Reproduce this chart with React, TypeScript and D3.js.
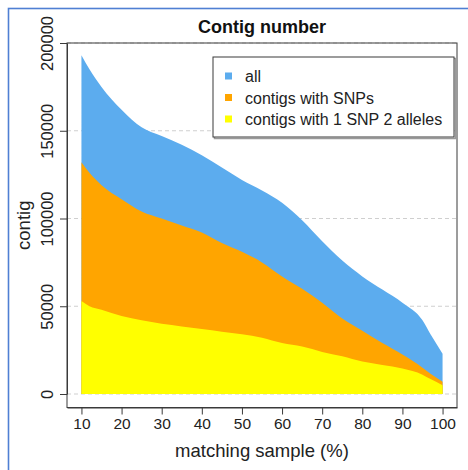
import { useEffect, useRef } from 'react';
import * as d3 from 'd3';

// matching sample (%)
const pct = [10, 12, 15, 20, 25, 30, 35, 40, 45, 50, 55, 60, 65, 70, 75, 80, 85, 90, 95, 97, 100];
// number of contigs per series
const allContigs = [193000, 185000, 175000, 162000, 152000, 147000, 142000, 136000, 129000, 122000, 116000, 109000, 99000, 87000, 76000, 67000, 59500, 52000, 42000, 34000, 23000];
const snpContigs = [132000, 126000, 119000, 111000, 104000, 100000, 96000, 92000, 86000, 81000, 75000, 67000, 60000, 52000, 43000, 36000, 29000, 22500, 15000, 11500, 7000];
const oneSnpContigs = [53000, 50000, 48000, 44500, 42000, 40000, 38500, 37000, 35500, 34000, 32000, 29000, 27000, 24000, 21500, 18500, 16500, 14500, 11000, 8500, 5000];

const xTicks = [10, 20, 30, 40, 50, 60, 70, 80, 90, 100];
const yTicks = [0, 50000, 100000, 150000, 200000];

const seriesNames = ['all', 'contigs with SNPs', 'contigs with 1 SNP 2 alleles'];
const seriesColors = ['#5cacee', '#ffa500', '#ffff00'];

const FONT = '"Liberation Sans", Arial, Helvetica, sans-serif';

export default function App() {
  const ref = useRef<SVGSVGElement>(null);

  useEffect(() => {
    const svg = d3.select(ref.current);
    svg.selectAll('*').remove();

    const box = { left: 67, right: 457, top: 43, bottom: 407.5 };

    const x = d3.scaleLinear().domain([6.4, 103.6]).range([box.left, box.right]);
    const y = d3.scaleLinear().domain([0, 200000]).range([394, 43]);

    // outer blue frame
    svg
      .append('rect')
      .attr('x', 8.5)
      .attr('y', 8.5)
      .attr('width', 480)
      .attr('height', 480)
      .attr('fill', 'none')
      .attr('stroke', '#4f7fd3')
      .attr('stroke-width', 1.6);

    // dashed grid
    svg
      .append('g')
      .selectAll('line')
      .data(yTicks)
      .join('line')
      .attr('x1', box.left)
      .attr('x2', box.right)
      .attr('y1', (d) => y(d))
      .attr('y2', (d) => y(d))
      .attr('stroke', '#cfcfcf')
      .attr('stroke-dasharray', '4,3');

    const series = [allContigs, snpContigs, oneSnpContigs];
    const area = d3
      .area<number>()
      .x((_, i) => x(pct[i]))
      .y0(y(0))
      .y1((d) => y(d))
      .curve(d3.curveMonotoneX);

    svg
      .append('g')
      .selectAll('path')
      .data(series)
      .join('path')
      .attr('d', (d) => area(d))
      .attr('fill', (_, i) => seriesColors[i]);

    // plot box
    svg
      .append('rect')
      .attr('x', box.left)
      .attr('y', box.top)
      .attr('width', box.right - box.left)
      .attr('height', box.bottom - box.top)
      .attr('fill', 'none')
      .attr('stroke', '#3a3a3a');

    // X axis
    const xAxis = svg
      .append('g')
      .attr('transform', `translate(0,${box.bottom})`)
      .call(d3.axisBottom(x).tickValues(xTicks).tickSize(7).tickPadding(3).tickSizeOuter(0));
    xAxis.select('.domain').attr('stroke', '#3a3a3a');
    xAxis.selectAll('.tick line').attr('stroke', '#3a3a3a');
    xAxis
      .selectAll('.tick text')
      .attr('fill', '#222')
      .style('font-family', FONT)
      .style('font-size', '15.5px');

    // Y axis
    const yAxis = svg
      .append('g')
      .attr('transform', `translate(${box.left},0)`)
      .call(d3.axisLeft(y).tickValues(yTicks).tickSize(7).tickSizeOuter(0).tickFormat(d3.format('d')));
    yAxis.select('.domain').attr('stroke', '#3a3a3a');
    yAxis.selectAll('.tick line').attr('stroke', '#3a3a3a');
    yAxis
      .selectAll('.tick text')
      .attr('x', null)
      .attr('dy', null)
      .attr('transform', 'translate(-14,0) rotate(-90)')
      .attr('text-anchor', 'middle')
      .attr('fill', '#222')
      .style('font-family', FONT)
      .style('font-size', '16.5px');

    // titles
    svg
      .append('text')
      .attr('x', (box.left + box.right) / 2)
      .attr('y', 33)
      .attr('text-anchor', 'middle')
      .style('font-family', FONT)
      .style('font-size', '18px')
      .style('font-weight', 'bold')
      .attr('fill', '#111')
      .text('Contig number');

    svg
      .append('text')
      .attr('x', (box.left + box.right) / 2)
      .attr('y', 457)
      .attr('text-anchor', 'middle')
      .style('font-family', FONT)
      .style('font-size', '18.5px')
      .attr('fill', '#222')
      .text('matching sample (%)');

    svg
      .append('text')
      .attr('transform', `translate(30,${(box.top + box.bottom) / 2}) rotate(-90)`)
      .attr('text-anchor', 'middle')
      .style('font-family', FONT)
      .style('font-size', '18.5px')
      .attr('fill', '#222')
      .text('contig');

    // Legend
    const legend = svg.append('g').attr('transform', 'translate(213,57)');
    legend
      .append('rect')
      .attr('x', 1.5)
      .attr('y', 1.5)
      .attr('width', 241)
      .attr('height', 80)
      .attr('fill', 'none')
      .attr('stroke', '#9a9a9a')
      .attr('stroke-width', 1.5);
    legend
      .append('rect')
      .attr('width', 241)
      .attr('height', 80)
      .attr('fill', '#fff')
      .attr('stroke', '#3a3a3a');

    seriesNames.forEach((name, i) => {
      const g = legend.append('g').attr('transform', `translate(0, ${19 + i * 21.5})`);
      g.append('rect').attr('x', 12).attr('y', -3.5).attr('width', 7).attr('height', 7).attr('fill', seriesColors[i]);
      g.append('text')
        .attr('x', 32)
        .attr('y', 6)
        .style('font-family', FONT)
        .style('font-size', '16px')
        .attr('fill', '#222')
        .text(name);
    });
  }, []);

  return (
    <svg
      ref={ref}
      width={468}
      height={470}
      style={{ position: 'absolute', left: 0, top: 0, background: '#fff' }}
    />
  );
}
